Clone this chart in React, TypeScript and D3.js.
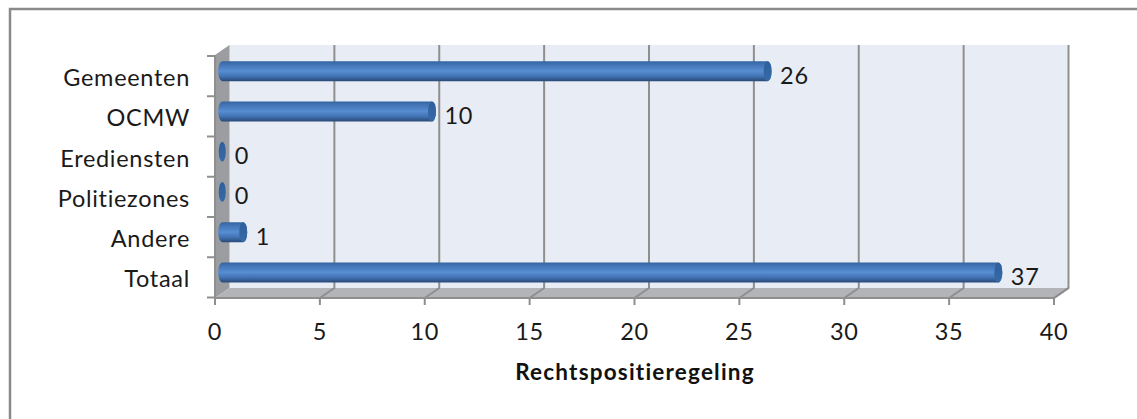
import React from "react";
import * as d3 from "d3";

const categories = ["Gemeenten", "OCMW", "Erediensten", "Politiezones", "Andere", "Totaal"];
const values = [26, 10, 0, 0, 1, 37];
const xTicks = [0, 5, 10, 15, 20, 25, 30, 35, 40];
const axisTitle = "Rechtspositieregeling";

const font = "Lato, Carlito, sans-serif";
const gray = "#8f8f8f";
const labelSize = 23.5;
const labelSpacing = 0.7;

// offset of the back wall relative to the front edge of the 3d box
const depthX = 14.5;
const depthY = -10;

export default function App() {
    const x = d3.scaleLinear().domain([0, 40]).range([215, 1054]);
    const y = d3.scaleBand().domain(categories).range([56, 297.5]);

    const top = 55;
    const bottom = 298;
    const capRx = 4;
    const capRy = 10;
    const barLine = d3.line();

    return (
        <svg
            width={1137}
            height={419}
            style={{ position: "absolute", left: 0, top: 0, background: "#fff" }}
        >
            <defs>
                <linearGradient id="bar" x1="0" y1="0" x2="0" y2="1">
                    <stop offset="0" stopColor="#33649f" />
                    <stop offset="0.2" stopColor="#4476b8" />
                    <stop offset="0.5" stopColor="#578dd2" />
                    <stop offset="0.75" stopColor="#4273b4" />
                    <stop offset="1" stopColor="#2a4a79" />
                </linearGradient>
                <linearGradient id="cap" x1="0" y1="0" x2="0" y2="1">
                    <stop offset="0" stopColor="#2f5f9b" />
                    <stop offset="1" stopColor="#356ba8" />
                </linearGradient>
            </defs>

            {/* frame, only top and left are in view */}
            <path d="M1137,9 H10 V419" fill="none" stroke="#8a8a8a" strokeWidth={2.5} />

            {/* walls and floor */}
            <polygon
                points={`${x(0) + depthX},${top + depthY} ${x(40) + depthX},${top + depthY} ${x(40) + depthX},${bottom + depthY} ${x(0) + depthX},${bottom + depthY}`}
                fill="#e8ecf5"
            />
            <polygon
                points={`${x(0)},${top} ${x(0) + depthX},${top + depthY} ${x(0) + depthX},${bottom + depthY} ${x(0)},${bottom}`}
                fill="#9c9da0"
            />
            <polygon
                points={`${x(0)},${bottom} ${x(0) + depthX},${bottom + depthY} ${x(40) + depthX},${bottom + depthY} ${x(40)},${bottom}`}
                fill="#b2b4b7"
            />

            {/* gridlines run up the back wall, with a tick at the front */}
            {xTicks.map((t) => (
                <g key={t}>
                    {t > 0 && (
                        <path
                            d={barLine([
                                [x(t) + depthX, top + depthY],
                                [x(t) + depthX, bottom + depthY],
                                [x(t), bottom],
                                [x(t), bottom + 7],
                            ]) ?? ""}
                            fill="none"
                            stroke={gray}
                            strokeWidth={2}
                        />
                    )}
                    <text
                        x={x(t)}
                        y={339.5}
                        textAnchor="middle"
                        fontFamily={font}
                        fontSize={labelSize}
                        letterSpacing={labelSpacing}
                        fill="#1a1a1a"
                    >
                        {t}
                    </text>
                </g>
            ))}
            <path
                d={`M${x(0)},${top} V${bottom + 7} M${x(0)},${bottom} H${x(40)} L${x(40) + depthX},${bottom + depthY}`}
                fill="none"
                stroke={gray}
                strokeWidth={2}
            />

            {/* category ticks */}
            {[...categories.map((c) => y(c) ?? 0), 297.5].map((v, i) => (
                <line key={i} x1={207} x2={x(0)} y1={v} y2={v} stroke={gray} strokeWidth={2} />
            ))}

            {/* bars */}
            {categories.map((c, i) => {
                const cy = (y(c) ?? 0) + y.bandwidth() / 2 + depthY / 2;
                const x0 = x(0) + depthX / 2;
                const x1 = x(values[i]) + depthX / 2;
                return (
                    <g key={c}>
                        {values[i] > 0 && (
                            <path
                                d={`M${x0},${cy - capRy} H${x1} A${capRx},${capRy} 0 0 1 ${x1},${cy + capRy} H${x0} A${capRx},${capRy} 0 0 1 ${x0},${cy - capRy} Z`}
                                fill="url(#bar)"
                            />
                        )}
                        <ellipse
                            cx={x1}
                            cy={cy}
                            rx={values[i] > 0 ? capRx : 3.5}
                            ry={capRy}
                            fill="url(#cap)"
                        />
                        <text
                            x={x1 + 12.5}
                            y={cy + 12.5}
                            fontFamily={font}
                            fontSize={labelSize}
                            letterSpacing={labelSpacing}
                            fill="#1a1a1a"
                        >
                            {values[i]}
                        </text>
                        <text
                            x={190}
                            y={(y(c) ?? 0) + y.bandwidth() / 2 + 10}
                            textAnchor="end"
                            fontFamily={font}
                            fontSize={labelSize}
                            letterSpacing={labelSpacing}
                            fill="#1a1a1a"
                        >
                            {c}
                        </text>
                    </g>
                );
            })}

            <text
                x={635}
                y={380}
                textAnchor="middle"
                fontFamily={font}
                fontSize={22.5}
                letterSpacing={1.2}
                fontWeight="bold"
                fill="#111"
            >
                {axisTitle}
            </text>
        </svg>
    );
}
